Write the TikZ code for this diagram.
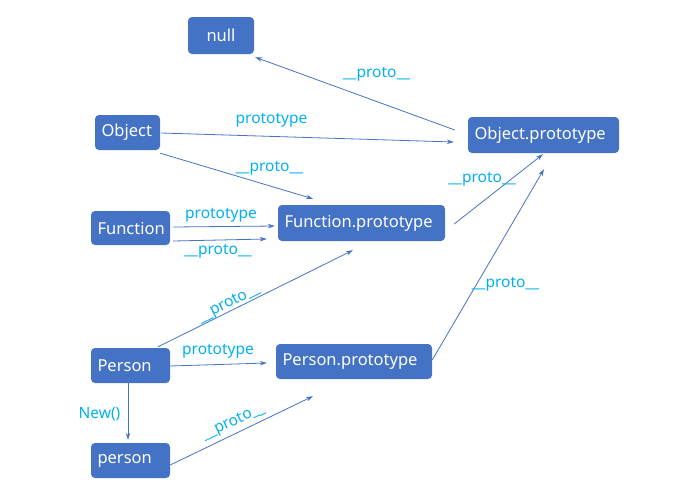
\documentclass[tikz,border=0pt]{standalone}
\usepackage{fontspec}
\setmainfont{Noto Sans}
\usetikzlibrary{arrows.meta,calc}
\definecolor{boxblue}{HTML}{4472C4}
\definecolor{lblcyan}{HTML}{00B0F0}
\newcommand{\usc}{\char95}
\tikzset{
  obox/.style 2 args={fill=boxblue, draw=none, rounded corners=4pt, text=white,
    inner xsep=6.5pt, inner ysep=0pt, text width=#1pt-13pt, align=left,
    minimum height=#2pt, font=\fontsize{16.5}{18}\selectfont},
  cbox/.style 2 args={fill=boxblue, draw=none, rounded corners=4pt, text=white,
    inner sep=0pt, minimum width=#1pt, minimum height=#2pt, font=\fontsize{16.5}{18}\selectfont},
  lbl/.style={text=lblcyan, inner sep=0pt, font=\fontsize{15.5}{17}\selectfont},
  arr/.style={draw=boxblue, line width=0.8pt, -{Stealth[length=7pt,width=4.5pt]}},
}
\begin{document}
\begin{tikzpicture}[x=1pt,y=-1pt]
\useasboundingbox (0,0) rectangle (688,491);
% nodes
\node[cbox={66}{37}] (nul) at (221,35.5) {null};
\node[obox={65}{35}] (obj) at (127.5,132.5) {Object};
\node[obox={79}{34}] (fun) at (130.5,228) {Function};
\node[obox={167}{36}] (fp) at (361.5,223) {Function.prototype};
\node[obox={151}{36}] (op) at (543.5,135) {Object.prototype};
\node[obox={79}{35}] (per) at (130.5,365.5) {Person};
\node[obox={156}{35}] (pp) at (354,361.5) {Person.prototype};
\node[obox={79}{35}] (pers) at (130.5,460.5) {person};
% connectors
\draw[arr] ($(op.west)+(-13,-5)$) -- ($(nul.south east)+(1,3)$);
\draw[arr] ($(obj.east)+(1,0.5)$) -- ($(op.west)+(-14,7)$);
\draw[arr] ($(obj.south east)+(0,3)$) -- ($(fp.north)+(-48.5,-6)$);
\draw[arr] ($(fun.east)+(3,-1)$) -- ($(fp.west)+(-3,3)$);
\draw[arr] ($(fun.east)+(3,13)$) -- ($(fp.west)+(-11,16)$);
\draw[arr] ($(fp.east)+(9,1)$) -- ($(op.south)+(-0.5,1)$);
\draw[arr] ($(pp.east)+(0,-1.5)$) -- ($(op.south)+(0.5,16)$);
\draw[arr] ($(per.north)+(27.5,-1)$) -- ($(fp.south)+(-8.5,9)$);
\draw[arr] ($(per.east)+(0,0.5)$) -- ($(pp.west)+(-9,1.5)$);
\draw[arr] ($(per.south)+(-2.5,0)$) -- ($(pers.north)+(-2.5,-3)$);
\draw[arr] ($(pers.east)+(0,4.5)$) -- ($(pp.south)+(-41,17)$);
% labels
\node[lbl] (l1) at (376.5,74) {\usc\usc proto\usc\usc};
\node[lbl] (l2) at (271.5,120) {prototype};
\node[lbl] (l3) at (269.5,168) {\usc\usc proto\usc\usc};
\node[lbl] (l4) at (221,215.5) {prototype};
\node[lbl] (l5) at (218,251) {\usc\usc proto\usc\usc};
\node[lbl] (l6) at (482,179.5) {\usc\usc proto\usc\usc};
\node[lbl] (l7) at (505.5,284.5) {\usc\usc proto\usc\usc};
\node[lbl, rotate=27] (l8) at (229,304) {\usc\usc proto\usc\usc};
\node[lbl] (l9) at (218,351) {prototype};
\node[lbl] (l10) at (99.5,414) {New()};
\node[lbl, rotate=25] (l11) at (233.5,422.5) {\usc\usc proto\usc\usc};
\end{tikzpicture}
\end{document}
